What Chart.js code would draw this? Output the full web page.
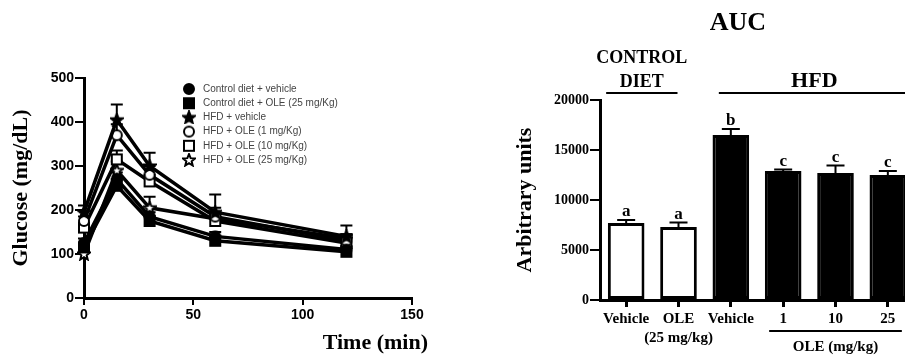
<!DOCTYPE html>
<html lang="en">
<head>
<meta charset="UTF-8">
<title>Glucose tolerance and AUC</title>
<script src="https://cdn.jsdelivr.net/npm/chart.js"></script>
<style>
  html, body { margin: 0; padding: 0; background: #fff; }
  body { width: 905px; height: 358px; overflow: hidden; position: relative; }
  #gtt { position: absolute; left: 0; top: 0; }
  #auc { position: absolute; left: 500px; top: 0; }
</style>
</head>
<body>
<canvas id="gtt" width="450" height="358"></canvas>
<canvas id="auc" width="420" height="358"></canvas>

<script>
// ---- data: glucose curve ----
var times = [0, 15, 30, 60, 120];
var cdVehicle = [125, 270, 185, 140, 110];
var cdOle25 = [115, 255, 175, 130, 105];
var hfdVehicle = [195, 405, 300, 195, 140];
var hfdOle1 = [175, 370, 280, 185, 130];
var hfdOle10 = [160, 315, 265, 175, 125];
var hfdOle25 = [100, 290, 205, 180, 135];

var cdVehicleErr = [10, 15, 10, 10, 8];
var cdOle25Err = [10, 15, 10, 10, 8];
var hfdVehicleErr = [15, 35, 30, 40, 25];
var hfdOle1Err = [10, 25, 20, 20, 15];
var hfdOle10Err = [10, 20, 15, 15, 10];
var hfdOle25Err = [10, 20, 25, 15, 10];

var seriesNames = [
  'Control diet + vehicle',
  'Control diet + OLE (25 mg/Kg)',
  'HFD + vehicle',
  'HFD + OLE (1 mg/Kg)',
  'HFD + OLE (10 mg/Kg)',
  'HFD + OLE (25 mg/Kg)'
];
var yTicksGlucose = [0, 100, 200, 300, 400, 500];
var xTicksTime = [0, 50, 100, 150];

// ---- data: AUC bars ----
var aucCategories = ['Vehicle', ['OLE', '(25 mg/kg)'], 'Vehicle', '1', '10', '25'];
var aucValues = [7700, 7300, 16500, 12900, 12700, 12500];
var aucErr = [300, 450, 600, 150, 750, 400];
var aucLetters = ['a', 'a', 'b', 'c', 'c', 'c'];

var serif = "'Liberation Serif', 'DejaVu Serif', serif";
var sans = "'Liberation Sans', Arial, sans-serif";

// marker images (filled / open circle, square, star)
function makeMarker(shape, filled) {
  var c = document.createElement('canvas');
  c.width = 14; c.height = 14;
  var g = c.getContext('2d');
  g.fillStyle = filled ? '#000' : '#fff';
  g.strokeStyle = '#000';
  g.lineWidth = 2;
  g.beginPath();
  if (shape === 'circle') {
    g.arc(7, 7, 5, 0, Math.PI * 2);
  } else if (shape === 'rect') {
    g.rect(2, 2, 10, 10);
  } else {
    for (var i = 0; i < 10; i++) {
      var r = i % 2 === 0 ? 6.3 : 2.8;
      var a = -Math.PI / 2 + i * Math.PI / 5;
      var px = 7 + r * Math.cos(a), py = 7.4 + r * Math.sin(a);
      if (i === 0) g.moveTo(px, py); else g.lineTo(px, py);
    }
    g.closePath();
  }
  g.fill();
  g.stroke();
  return c;
}

var markers = [
  makeMarker('circle', true),
  makeMarker('rect', true),
  makeMarker('star', true),
  makeMarker('circle', false),
  makeMarker('rect', false),
  makeMarker('star', false)
];

var glucoseSeries = [cdVehicle, cdOle25, hfdVehicle, hfdOle1, hfdOle10, hfdOle25];
var glucoseErrs = [cdVehicleErr, cdOle25Err, hfdVehicleErr, hfdOle1Err, hfdOle10Err, hfdOle25Err];

var lineDatasets = glucoseSeries.map(function(vals, i) {
  return {
    label: seriesNames[i],
    data: vals.map(function(v, j) { return { x: times[j], y: v }; }),
    errors: glucoseErrs[i],
    borderColor: '#000',
    borderWidth: 3.5,
    pointStyle: markers[i],
    pointRadius: 7,
    fill: false,
    tension: 0,
    clip: false
  };
});

// error bars (upper half only) drawn under the lines
var lineErrorPlugin = {
  id: 'lineErrors',
  beforeDatasetsDraw: function(chart) {
    var ctx = chart.ctx, ys = chart.scales.y;
    ctx.save();
    ctx.strokeStyle = '#000';
    ctx.lineWidth = 2;
    chart.data.datasets.forEach(function(ds, i) {
      var meta = chart.getDatasetMeta(i);
      meta.data.forEach(function(pt, j) {
        var top = ys.getPixelForValue(ds.data[j].y + ds.errors[j]);
        ctx.beginPath();
        ctx.moveTo(pt.x, pt.y);
        ctx.lineTo(pt.x, top);
        ctx.moveTo(pt.x - 6, top);
        ctx.lineTo(pt.x + 6, top);
        ctx.stroke();
      });
    });
    ctx.restore();
  },
  afterDraw: function(chart) {
    var ctx = chart.ctx;
    ctx.save();
    // legend
    ctx.font = "10px " + sans;
    ctx.fillStyle = '#444';
    ctx.textBaseline = 'middle';
    ctx.textAlign = 'left';
    seriesNames.forEach(function(name, i) {
      var y = 89 + i * 14.2;
      ctx.drawImage(markers[i], 182, y - 7);
      ctx.fillText(name, 203, y);
    });
    // x title
    ctx.font = "bold 22px " + serif;
    ctx.fillStyle = '#000';
    ctx.textAlign = 'right';
    ctx.fillText('Time (min)', 428, 343);
    ctx.restore();
  }
};

new Chart(document.getElementById('gtt'), {
  type: 'line',
  data: { datasets: lineDatasets },
  options: {
    responsive: false,
    animation: false,
    layout: { padding: { top: 78, right: 38, left: 0, bottom: 0 } },
    plugins: { legend: { display: false }, tooltip: { enabled: false } },
    scales: {
      x: {
        type: 'linear',
        min: 0,
        max: 150,
        afterBuildTicks: function(s) { s.ticks = xTicksTime.map(function(v) { return { value: v }; }); },
        afterFit: function(s) { s.height = 60; },
        ticks: { font: { family: sans, size: 14, weight: 'bold' }, color: '#000', padding: 2 },
        grid: { drawOnChartArea: false, color: '#000', lineWidth: 2, tickLength: 7 },
        border: { color: '#000', width: 3 }
      },
      y: {
        min: 0,
        max: 500,
        afterBuildTicks: function(s) { s.ticks = yTicksGlucose.map(function(v) { return { value: v }; }); },
        afterFit: function(s) { s.width = 84; },
        ticks: { font: { family: sans, size: 14, weight: 'bold' }, color: '#000', padding: 1 },
        grid: { drawOnChartArea: false, color: '#000', lineWidth: 2, tickLength: 9 },
        border: { color: '#000', width: 3 },
        title: {
          display: true,
          text: 'Glucose (mg/dL)',
          font: { family: serif, size: 22, weight: 'bold' },
          color: '#000',
          padding: { top: 8, bottom: 0 }
        }
      }
    }
  },
  plugins: [lineErrorPlugin]
});

// ---- AUC bar chart ----
var aucPlugin = {
  id: 'aucExtras',
  afterDatasetsDraw: function(chart) {
    var ctx = chart.ctx, xs = chart.scales.x, ys = chart.scales.y;
    var meta = chart.getDatasetMeta(0);
    ctx.save();
    ctx.strokeStyle = '#000';
    ctx.fillStyle = '#000';
    ctx.lineWidth = 2;
    meta.data.forEach(function(bar, i) {
      var top = ys.getPixelForValue(aucValues[i] + aucErr[i]);
      ctx.beginPath();
      ctx.moveTo(bar.x, bar.y);
      ctx.lineTo(bar.x, top);
      ctx.moveTo(bar.x - 9, top);
      ctx.lineTo(bar.x + 9, top);
      ctx.stroke();
      ctx.font = "bold 17px " + serif;
      ctx.textAlign = 'center';
      ctx.textBaseline = 'alphabetic';
      ctx.fillText(aucLetters[i], bar.x, top - 4);
    });

    // group labels
    ctx.textAlign = 'center';
    ctx.textBaseline = 'middle';
    ctx.font = "bold 26px " + serif;
    ctx.fillText('AUC', xs.getPixelForValue(2) + 7, 23);

    ctx.font = "bold 18px " + serif;
    var cdL = xs.getPixelForValue(0) - 20, cdR = xs.getPixelForValue(1) - 1;
    ctx.fillText('CONTROL', (cdL + cdR) / 2, 58);
    ctx.fillText('DIET', (cdL + cdR) / 2, 82);
    ctx.beginPath();
    ctx.moveTo(cdL, 93); ctx.lineTo(cdR, 93);
    ctx.stroke();

    var hL = xs.getPixelForValue(2) - 12, hR = xs.getPixelForValue(5) + 22;
    ctx.font = "bold 22px " + serif;
    ctx.fillText('HFD', (hL + hR) / 2, 81);
    ctx.beginPath();
    ctx.moveTo(hL, 93); ctx.lineTo(hR, 93);
    ctx.stroke();

    var oL = xs.getPixelForValue(3) - 14, oR = xs.getPixelForValue(5) + 14;
    ctx.beginPath();
    ctx.moveTo(oL, 331); ctx.lineTo(oR, 331);
    ctx.stroke();
    ctx.font = "bold 15px " + serif;
    ctx.fillText('OLE (mg/kg)', (oL + oR) / 2, 347);
    ctx.restore();
  }
};

new Chart(document.getElementById('auc'), {
  type: 'bar',
  data: {
    labels: aucCategories,
    datasets: [{
      data: aucValues,
      backgroundColor: ['#fff', '#fff', '#000', '#000', '#000', '#000'],
      borderColor: '#000',
      borderWidth: 3,
      borderSkipped: false,
      barPercentage: 0.7,
      categoryPercentage: 1.0
    }]
  },
  options: {
    responsive: false,
    animation: false,
    layout: { padding: { top: 100, right: 6, left: 0, bottom: 0 } },
    plugins: { legend: { display: false }, tooltip: { enabled: false } },
    scales: {
      x: {
        afterFit: function(s) { s.height = 58; },
        ticks: { font: { family: serif, size: 15, weight: 'bold', lineHeight: 1.25 }, color: '#000', padding: 3, maxRotation: 0, autoSkip: false },
        grid: { offset: false, drawOnChartArea: false, color: '#000', lineWidth: 3, tickLength: 7 },
        border: { color: '#000', width: 3 }
      },
      y: {
        min: 0,
        max: 20000,
        afterFit: function(s) { s.width = 100; },
        ticks: {
          stepSize: 5000,
          callback: function(v) { return String(v); },
          font: { family: serif, size: 14, weight: 'bold' },
          color: '#000',
          padding: 1
        },
        grid: { drawOnChartArea: false, color: '#000', lineWidth: 2, tickLength: 10 },
        border: { color: '#000', width: 3 },
        title: {
          display: true,
          text: 'Arbitrary units',
          font: { family: serif, size: 22, weight: 'bold' },
          color: '#000',
          padding: { top: 12, bottom: 0 }
        }
      }
    }
  },
  plugins: [aucPlugin]
});
</script>
</body>
</html>
